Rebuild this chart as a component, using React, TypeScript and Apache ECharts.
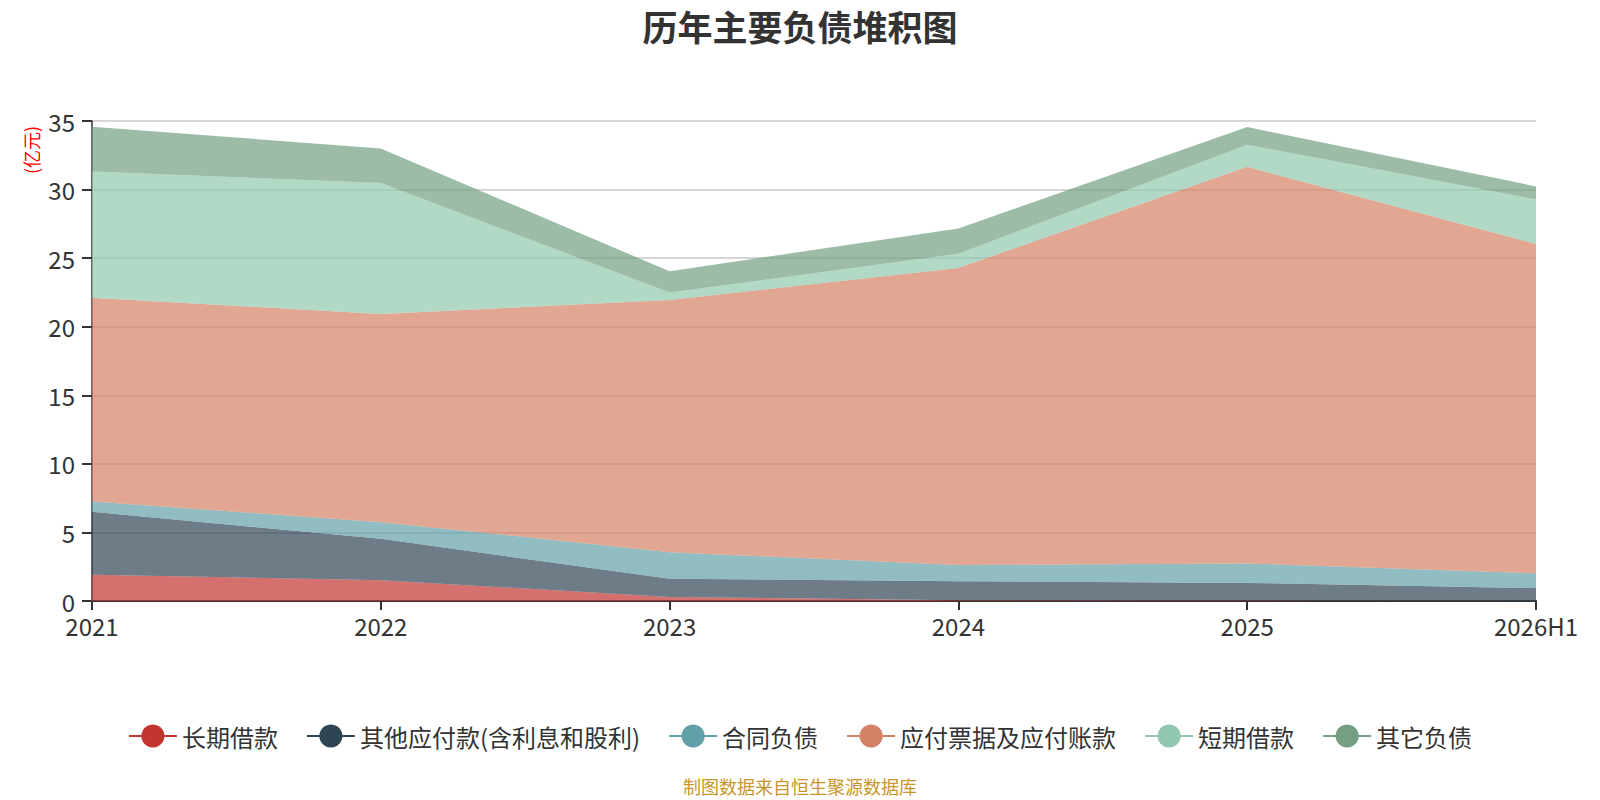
import React, { useEffect, useRef } from "react";
import * as echarts from "echarts";

const categories = ["2021", "2022", "2023", "2024", "2025", "2026H1"];
const seriesNames = ["长期借款", "其他应付款(含利息和股利)", "合同负债", "应付票据及应付账款", "短期借款", "其它负债"];
const longLoan = [1.92, 1.52, 0.29, 0.05, 0.03, 0];
const otherPayable = [4.58, 3.01, 1.34, 1.39, 1.29, 0.94];
const contractLiab = [0.75, 1.22, 1.93, 1.18, 1.42, 1.08];
const notesPayable = [14.87, 15.18, 18.39, 21.67, 28.92, 24.02];
const shortLoan = [9.2, 9.55, 0.54, 1.03, 1.61, 3.24];
const otherLiab = [3.26, 2.52, 1.55, 1.85, 1.29, 0.95];
const colors = ["#c23531", "#2f4554", "#61a0a8", "#d48265", "#91c7ae", "#749f83"];
const yTicks = { min: 0, max: 35, interval: 5 };

const FONT = "'Microsoft YaHei', 'Noto Sans CJK SC', sans-serif";

export default function App() {
  const ref = useRef<HTMLDivElement>(null);
  useEffect(() => {
    document.body.style.margin = "0";
    if (!ref.current) return;
    const chart = echarts.init(ref.current, null, { renderer: "svg" });
    const values = [longLoan, otherPayable, contractLiab, notesPayable, shortLoan, otherLiab];
    chart.setOption({
      animation: false,
      color: colors,
      textStyle: { fontFamily: FONT },
      title: {
        text: "历年主要负债堆积图",
        left: "center",
        top: 0,
        textStyle: { fontSize: 35, fontWeight: "bold", color: "#333", fontFamily: FONT, lineHeight: 40 },
      },
      legend: {
        data: seriesNames,
        top: 719,
        left: "center",
        itemWidth: 48,
        itemHeight: 29,
        itemGap: 28,
        lineStyle: { width: 2 },
        textStyle: { fontSize: 24, color: "#333", fontFamily: FONT },
      },
      grid: { left: 92, right: 64, top: 121, bottom: 199, containLabel: false },
      xAxis: {
        type: "category",
        data: categories,
        boundaryGap: false,
        axisLine: { lineStyle: { color: "#333", width: 2 } },
        axisTick: { length: 9, lineStyle: { color: "#333", width: 2 } },
        axisLabel: { fontSize: 24, lineHeight: 24, color: "#333", margin: 12, fontFamily: FONT },
      },
      yAxis: {
        type: "value",
        min: yTicks.min,
        max: yTicks.max,
        interval: yTicks.interval,
        axisLine: { show: true, lineStyle: { color: "#333", width: 1.5 } },
        axisTick: { show: true, length: 10, lineStyle: { color: "#333", width: 2 } },
        axisLabel: { fontSize: 24, lineHeight: 18, color: "#333", margin: 17, fontFamily: FONT },
        splitLine: { lineStyle: { color: "#c8c8c8", width: 1.5 } },
      },
      graphic: [
        {
          type: "text",
          x: 31,
          y: 150,
          rotation: Math.PI / 2,
          style: {
            text: "(亿元)",
            fill: "#ff0000",
            fontSize: 18,
            fontFamily: FONT,
            align: "center",
            verticalAlign: "middle",
          },
        },
        {
          type: "text",
          x: 800,
          y: 786,
          style: {
            text: "制图数据来自恒生聚源数据库",
            fill: "#c8952a",
            fontSize: 18,
            fontFamily: FONT,
            align: "center",
            verticalAlign: "middle",
          },
        },
      ],
      series: seriesNames.map((name, i) => ({
        name,
        type: "line",
        stack: "total",
        data: values[i],
        symbol: "circle",
        showSymbol: false,
        lineStyle: { width: 0 },
        areaStyle: { opacity: 0.7 },
      })),
    });
    return () => chart.dispose();
  }, []);
  return <div ref={ref} style={{ width: 1600, height: 800 }} />;
}
